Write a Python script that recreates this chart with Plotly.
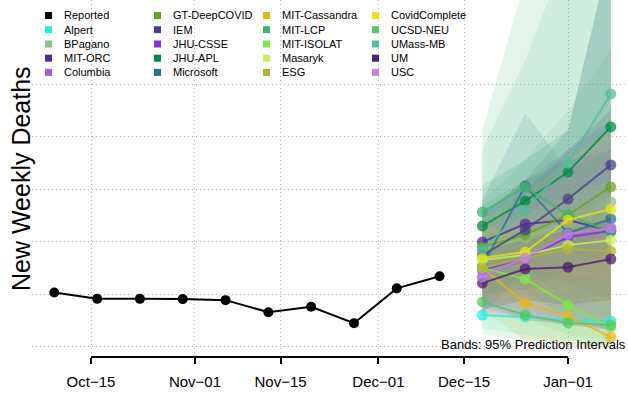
import plotly.graph_objects as go

# ---------------- data ----------------
reported_dates = ["2020-10-09", "2020-10-16", "2020-10-23", "2020-10-30", "2020-11-06",
                  "2020-11-13", "2020-11-20", "2020-11-27", "2020-12-04", "2020-12-11"]
reported_values = [2030, 1910, 1910, 1905, 1885, 1655, 1760, 1445, 2110, 2340]

forecast_dates = ["2020-12-18", "2020-12-25", "2021-01-01", "2021-01-08"]

model_names = ["Alpert", "BPagano", "MIT-ORC", "Columbia", "GT-DeepCOVID", "IEM", "JHU-CSSE",
               "JHU-APL", "Microsoft", "MIT-Cassandra", "MIT-LCP", "MIT-ISOLAT", "Masaryk", "ESG",
               "CovidComplete", "UCSD-NEU", "UMass-MB", "UM", "USC"]
model_colors = ["#20F0D8", "#8FBC8F", "#54279E", "#A45BD4", "#6AA220", "#483D8B", "#8A2BE2",
                "#008B45", "#2C728E", "#E8B415", "#3CB371", "#80E845", "#CCF05A", "#B2B23A",
                "#E2E418", "#55C667", "#52BE9A", "#4B1E6E", "#C084E0"]

point_forecast = {
    "Alpert":        [1600, 1565, 1505, 1485],
    "BPagano":       [2840, 3070, 3375, 3760],
    "MIT-ORC":       [2995, 3340, 3415, 3205],
    "Columbia":      [2325, 2670, 3130, 3260],
    "GT-DeepCOVID":  [2900, 3130, 3510, 4045],
    "IEM":           [2745, 3225, 3815, 4465],
    "JHU-CSSE":      [2460, 2690, 3090, 3205],
    "JHU-APL":       [3300, 3775, 4330, 5190],
    "Microsoft":     [2535, 4065, 3165, 3435],
    "MIT-Cassandra": [2500, 1830, 1580, 1180],
    "MIT-LCP":       [3565, 4045, 3510, 3185],
    "MIT-ISOLAT":    [2500, 2290, 1790, 1370],
    "Masaryk":       [2650, 2745, 2935, 3030],
    "ESG":           [2500, 2690, 2860, 2820],
    "CovidComplete": [2690, 2805, 3415, 3625],
    "UCSD-NEU":      [1850, 1600, 1450, 1410],
    "UMass-MB":      [2860, 3605, 4500, 5820],
    "UM":            [2210, 2480, 2515, 2670],
    "USC":           [2325, 2690, 3145, 3260],
}
upper_95 = {
    "Alpert":        [1890, 1985, 2080, 2175],
    "BPagano":       [3795, 4560, 5515, 6660],
    "MIT-ORC":       [3510, 4180, 4560, 4750],
    "Columbia":      [3030, 3795, 4750, 5515],
    "GT-DeepCOVID":  [3700, 4180, 4750, 5515],
    "IEM":           [3510, 4180, 5130, 8565],
    "JHU-CSSE":      [3225, 3985, 4750, 5320],
    "JHU-APL":       [4080, 4560, 5130, 8565],
    "Microsoft":     [3795, 5455, 4370, 4750],
    "MIT-Cassandra": [3320, 3225, 3225, 3130],
    "MIT-LCP":       [5130, 7995, 9520, 11430],
    "MIT-ISOLAT":    [3030, 3225, 3030, 2935],
    "Masaryk":       [3225, 3510, 3890, 4180],
    "ESG":           [3030, 3320, 3605, 3795],
    "CovidComplete": [3415, 3890, 4560, 5130],
    "UCSD-NEU":      [2555, 2460, 2365, 2270],
    "UMass-MB":      [4750, 6470, 8565, 10475],
    "UM":            [2840, 3030, 3225, 3415],
    "USC":           [3130, 3795, 4465, 4940],
}
lower_95 = {
    "Alpert":        [1355, 1220, 1125, 1065],
    "BPagano":       [1890, 1695, 1505, 1315],
    "MIT-ORC":       [2460, 2460, 2175, 1890],
    "Columbia":      [1695, 1545, 1410, 1315],
    "GT-DeepCOVID":  [2080, 1985, 2175, 2365],
    "IEM":           [1985, 2080, 2460, 2840],
    "JHU-CSSE":      [1790, 1505, 1410, 1315],
    "JHU-APL":       [2460, 2650, 2840, 3225],
    "Microsoft":     [1600, 2460, 1890, 1985],
    "MIT-Cassandra": [1695, 1125, 1030, 970],
    "MIT-LCP":       [2080, 2080, 1505, 1315],
    "MIT-ISOLAT":    [1890, 1505, 1220, 1125],
    "Masaryk":       [2080, 1985, 1890, 1790],
    "ESG":           [1890, 1890, 1695, 1505],
    "CovidComplete": [1890, 1790, 1890, 1890],
    "UCSD-NEU":      [1220, 1125, 1030, 1030],
    "UMass-MB":      [1890, 2270, 2460, 2840],
    "UM":            [1695, 1890, 1790, 1890],
    "USC":           [1600, 1505, 1410, 1315],
}

tick_dates = ["2020-10-15", "2020-11-01", "2020-11-15", "2020-12-01", "2020-12-15", "2021-01-01"]
tick_labels = ["Oct\u221215", "Nov\u221201", "Nov\u221215", "Dec\u221201", "Dec\u221215", "Jan\u221201"]
y_grid = [1000, 2000, 3000, 4000, 5000, 6000]

legend_names = ["Reported"] + model_names
legend_colors = ["#000000"] + model_colors

# ---------------- layout constants ----------------
W, H = 628, 394
L, R, T, B = 32, 0, 0, 37
PW, PH = W - L - R, H - T - B
FONT = "Liberation Sans, Arial, Helvetica, sans-serif"


def px_x(px):
    return (px - L) / PW


def px_y(py):
    return 1 - (py - T) / PH


def rgba(hx, a):
    hx = hx.lstrip("#")
    return "rgba(%d,%d,%d,%.3f)" % (int(hx[0:2], 16), int(hx[2:4], 16), int(hx[4:6], 16), a)


fig = go.Figure()

# prediction bands
for name, col in zip(model_names, model_colors):
    fig.add_trace(go.Scatter(
        x=forecast_dates + forecast_dates[::-1],
        y=upper_95[name] + lower_95[name][::-1],
        fill="toself", fillcolor=rgba(col, 0.14),
        line=dict(width=0), mode="lines", hoverinfo="skip", showlegend=False))

# forecast lines
for name, col in zip(model_names, model_colors):
    fig.add_trace(go.Scatter(
        x=forecast_dates, y=point_forecast[name], mode="lines+markers", name=name,
        line=dict(color=rgba(col, 0.8), width=2),
        marker=dict(color=rgba(col, 0.75), size=11, line=dict(width=0)),
        showlegend=False))

# reported
fig.add_trace(go.Scatter(
    x=reported_dates, y=reported_values, mode="lines+markers", name="Reported",
    line=dict(color="black", width=2), marker=dict(color="black", size=10),
    showlegend=False))

# x axis line between first and last tick (R style)
fig.add_shape(type="line", xref="x", yref="paper", x0=tick_dates[0], x1=tick_dates[-1],
              y0=0, y1=0, line=dict(color="black", width=2))

# manual legend (column-major, 5 rows)
row_y = [15.5, 29.7, 44.0, 58.2, 72.4]
col_text_x = [62, 171, 280, 389]
for i, (nm, col) in enumerate(zip(legend_names, legend_colors)):
    c, r = divmod(i, 5)
    tx, ty = col_text_x[c], row_y[r]
    sx = tx - 13.5
    fig.add_shape(type="rect", xref="paper", yref="paper",
                  x0=px_x(sx - 3.5), x1=px_x(sx + 3.5), y0=px_y(ty + 3.5), y1=px_y(ty - 3.5),
                  fillcolor=col, line=dict(width=0), layer="above")
    fig.add_annotation(text=nm, xref="paper", yref="paper", x=px_x(tx), y=px_y(ty),
                       xanchor="left", yanchor="middle", showarrow=False,
                       font=dict(size=11, color="black", family=FONT))

# y title
fig.add_annotation(text="New Weekly Deaths", xref="paper", yref="paper", x=px_x(21), y=px_y(179),
                   xanchor="center", yanchor="middle", textangle=-90, showarrow=False,
                   borderpad=0, font=dict(size=25, color="black", family=FONT))

# bands note
fig.add_annotation(text="Bands: 95% Prediction Intervals", xref="paper", yref="paper",
                   x=px_x(627), y=px_y(344), xanchor="right", yanchor="middle", showarrow=False,
                   borderpad=0, font=dict(size=13, color="black", family=FONT))

fig.update_layout(
    width=W, height=H, margin=dict(l=L, r=R, t=T, b=B),
    paper_bgcolor="white", plot_bgcolor="white", showlegend=False,
    font=dict(family=FONT, color="black"),
    xaxis=dict(type="date", range=["2020-10-05 08:27", "2021-01-10 19:28"],
               tickvals=tick_dates, ticktext=tick_labels, ticks="outside", ticklen=6,
               tickwidth=1.5, tickcolor="black", tickfont=dict(size=15, family=FONT),
               ticklabelstandoff=5,
               showgrid=True, gridcolor="#b5b5b5", griddash="1px,3px", gridwidth=1,
               showline=False, zeroline=False),
    yaxis=dict(range=[800, 7613], tickvals=y_grid, showticklabels=False, ticks="",
               showgrid=True, gridcolor="#b5b5b5", griddash="1px,3px", gridwidth=1,
               showline=False, zeroline=False),
)

# remove the page's default body margin so the figure sits at the window origin
fig.write_html("out.html",
               config={"displayModeBar": False},
               post_script="document.body.style.margin='0';"
                           "document.documentElement.style.overflow='hidden';")
